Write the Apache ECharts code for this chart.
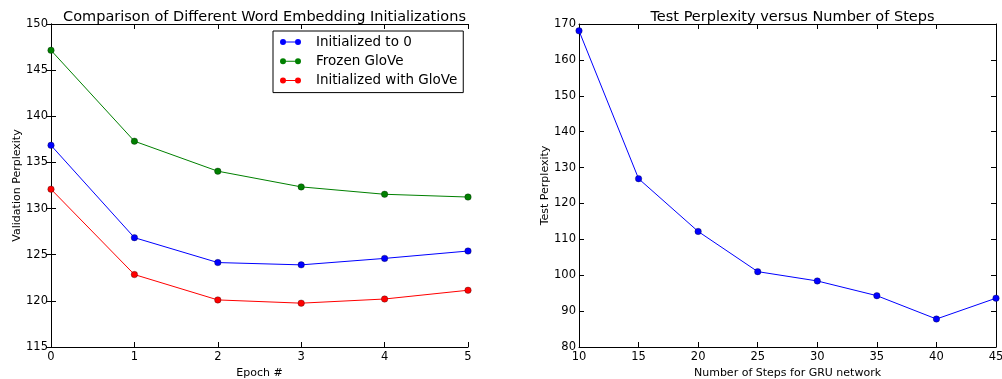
<!DOCTYPE html>
<html>
<head>
<meta charset="utf-8">
<script src="https://cdn.jsdelivr.net/npm/echarts@6/dist/echarts.min.js"></script>
<style>html,body{margin:0;padding:0;background:#fff}#c{width:1002px;height:379px}</style>
</head>
<body>
<div id="c"></div>
<script>
const epochs = [0, 1, 2, 3, 4, 5];
const initZero = [136.85, 126.85, 124.15, 123.9, 124.6, 125.4];
const frozenGlove = [147.15, 137.3, 134.05, 132.35, 131.55, 131.25];
const initGlove = [132.1, 122.85, 120.1, 119.75, 120.2, 121.15];
const steps = [10, 15, 20, 25, 30, 35, 40, 45];
const testPerplexity = [168.1, 126.9, 112.2, 101.0, 98.4, 94.3, 87.8, 93.6];

const FONT = 'DejaVu Sans';
const pair = (xs, ys) => xs.map((x, i) => [x, ys[i]]);
const line = {lineStyle: {color: '#000', width: 1}};
const tick = {show: true, inside: true, length: 5, lineStyle: {color: '#000'}};
const lab = {color: '#000', fontFamily: FONT, fontSize: 11.5};

function xAx(grid, min, max, interval, name, pos) {
  const main = pos === 'bottom';
  return {
    type: 'value', gridIndex: grid, position: pos, min, max, interval,
    axisLine: line, axisTick: tick, splitLine: {show: false},
    axisLabel: main ? Object.assign({margin: 4}, lab) : {show: false},
    name: main ? name : '', nameLocation: 'middle', nameGap: 19,
    nameTextStyle: {color: '#000', fontFamily: FONT, fontSize: 11}
  };
}
function yAx(grid, min, max, interval, name, pos, gap) {
  const main = pos === 'left';
  return {
    type: 'value', gridIndex: grid, position: pos, min, max, interval,
    axisLine: line, axisTick: tick, splitLine: {show: false},
    axisLabel: main ? Object.assign({margin: 3}, lab) : {show: false},
    name: main ? name : '', nameLocation: 'middle', nameGap: gap, nameRotate: 90,
    nameTextStyle: {color: '#000', fontFamily: FONT, fontSize: 11}
  };
}
function ser(name, data, color, xi, yi) {
  return {
    name, type: 'line', data, xAxisIndex: xi, yAxisIndex: yi,
    symbol: 'circle', symbolSize: 6.5, showSymbol: true,
    lineStyle: {color, width: 1}, itemStyle: {color, borderColor: '#000', borderWidth: 0.3},
    animation: false
  };
}

const legendIcon = 'path://M0,3 A3,3 0 1,1 6,3 A3,3 0 1,1 0,3 Z M15,3 A3,3 0 1,1 21,3 A3,3 0 1,1 15,3 Z M3,2.5 L18,2.5 L18,3.5 L3,3.5 Z';

const chart = echarts.init(document.getElementById('c'));
chart.setOption({
  animation: false,
  backgroundColor: '#fff',
  title: [
    {text: 'Comparison of Different Word Embedding Initializations', left: 259.5, top: 5, textAlign: 'center',
     textStyle: {fontFamily: FONT, fontSize: 14.5, fontWeight: 'normal', color: '#000'}},
    {text: 'Test Perplexity versus Number of Steps', left: 787.5, top: 5, textAlign: 'center',
     textStyle: {fontFamily: FONT, fontSize: 14.5, fontWeight: 'normal', color: '#000'}}
  ],
  legend: {
    left: 273, top: 31, orient: 'vertical', align: 'left',
    data: ['Initialized to 0', 'Frozen GloVe', 'Initialized with GloVe'],
    icon: legendIcon,
    backgroundColor: '#fff', borderColor: '#000', borderWidth: 1, borderRadius: 0,
    padding: [4, 6, 5, 7], itemGap: 5.3, itemWidth: 21, itemHeight: 6,
    itemStyle: {borderWidth: 0},
    textStyle: {fontFamily: FONT, fontSize: 13.5, lineHeight: 14, color: '#000', padding: [0, 0, 0, 10]}
  },
  grid: [
    {left: 51, right: 534, top: 24, bottom: 32, outerBoundsMode: 'none', containLabel: false},
    {left: 579, right: 6, top: 24, bottom: 32, outerBoundsMode: 'none', containLabel: false}
  ],
  xAxis: [
    xAx(0, 0, 5, 1, 'Epoch #', 'bottom'),
    xAx(0, 0, 5, 1, '', 'top'),
    xAx(1, 10, 45, 5, 'Number of Steps for GRU network', 'bottom'),
    xAx(1, 10, 45, 5, '', 'top')
  ],
  yAxis: [
    yAx(0, 115, 150, 5, 'Validation Perplexity', 'left', 27),
    yAx(0, 115, 150, 5, '', 'right', 0),
    yAx(1, 80, 170, 10, 'Test Perplexity', 'left', 27),
    yAx(1, 80, 170, 10, '', 'right', 0)
  ],
  series: [
    ser('Initialized to 0', pair(epochs, initZero), '#0000ff', 0, 0),
    ser('Frozen GloVe', pair(epochs, frozenGlove), '#008000', 0, 0),
    ser('Initialized with GloVe', pair(epochs, initGlove), '#ff0000', 0, 0),
    ser('Test Perplexity', pair(steps, testPerplexity), '#0000ff', 2, 2)
  ]
});
</script>
</body>
</html>
